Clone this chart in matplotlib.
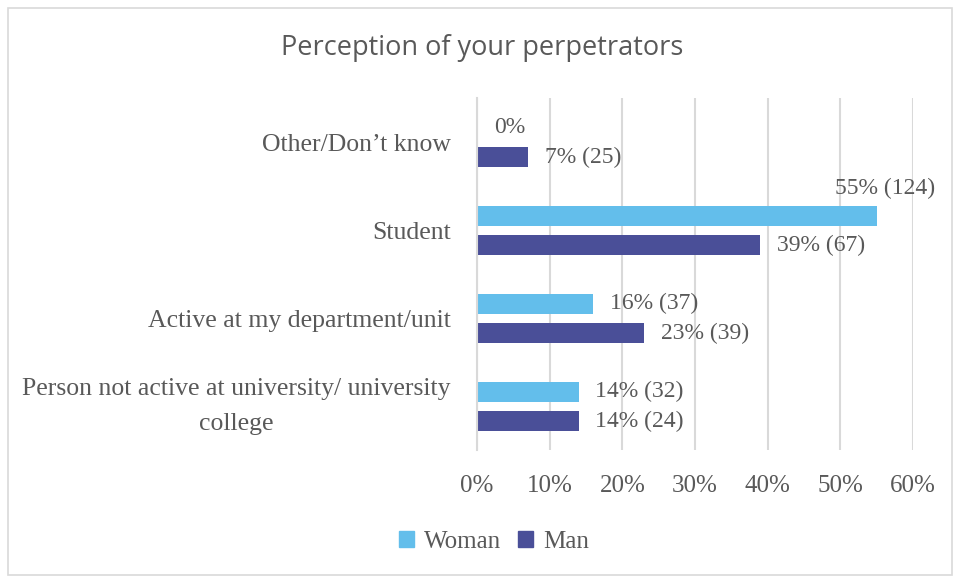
#!/usr/bin/env python3
"""Perception of your perpetrators: grouped horizontal bars, woman vs man."""

import matplotlib.pyplot as plt
from matplotlib.patches import Patch, Rectangle

CATEGORIES = [
    "Other/Don\u2019t know",
    "Student",
    "Active at my department/unit",
    "Person not active at university/ university\ncollege",
]
WOMAN_PCT = [0, 55, 16, 14]
WOMAN_N = [None, 124, 37, 32]
MAN_PCT = [7, 39, 23, 14]
MAN_N = [25, 67, 39, 24]
XTICKS = [0, 10, 20, 30, 40, 50, 60]

WOMAN_COLOR = "#63BEEB"
MAN_COLOR = "#4A4F98"
TEXT_COLOR = "#595959"
GRID_COLOR = "#D9D9D9"
SERIF = ["Liberation Serif", "DejaVu Serif"]


def label(pct, n):
    return f"{pct}%" if n is None else f"{pct}% ({n})"


def main() -> None:
    plt.rcParams["font.family"] = SERIF
    fig = plt.figure(figsize=(9.56, 5.79), dpi=100)
    ax = fig.add_axes([0.499, 0.222, 0.456, 0.608])

    y = list(range(len(CATEGORIES)))
    h = 0.225
    off = 0.165
    yw = [v - off for v in y]
    ym = [v + off for v in y]
    ax.barh(yw, WOMAN_PCT, height=h, color=WOMAN_COLOR, zorder=2)
    ax.barh(ym, MAN_PCT, height=h, color=MAN_COLOR, zorder=2)

    fs = 17
    for yy, p, n in zip(yw, WOMAN_PCT, WOMAN_N):
        if p > 50:
            ax.annotate(label(p, n), (p, yy - h / 2), xytext=(6, 5),
                        textcoords="offset points", ha="center", va="bottom",
                        fontsize=fs, color=TEXT_COLOR)
        else:
            ax.annotate(label(p, n), (p, yy), xytext=(12, 0),
                        textcoords="offset points", ha="left", va="center",
                        fontsize=fs, color=TEXT_COLOR)
    for yy, p, n in zip(ym, MAN_PCT, MAN_N):
        ax.annotate(label(p, n), (p, yy), xytext=(12, 0),
                    textcoords="offset points", ha="left", va="center",
                    fontsize=fs, color=TEXT_COLOR)

    ax.set_xlim(0, 60)
    ax.set_ylim(len(CATEGORIES) - 0.5, -0.5)
    ax.set_xticks(XTICKS)
    ax.set_xticklabels([f"{t}%" for t in XTICKS])
    ax.set_yticks(y)
    ax.set_yticklabels(CATEGORIES, multialignment="center", linespacing=1.75)
    ax.get_yticklabels()[-1].set_va("center")
    ax.tick_params(axis="x", length=0, pad=18, labelsize=18, labelcolor=TEXT_COLOR)
    ax.tick_params(axis="y", length=0, pad=19, labelsize=18.5, labelcolor=TEXT_COLOR)
    ax.grid(axis="x", color=GRID_COLOR, linewidth=1.5, zorder=0)
    ax.set_axisbelow(True)
    for side in ("top", "right", "bottom"):
        ax.spines[side].set_visible(False)
    ax.spines["left"].set_color(GRID_COLOR)
    ax.spines["left"].set_linewidth(1.5)

    fig.text(482 / 956, 1 - 48 / 579, "Perception of your perpetrators",
             family=["Open Sans", "DejaVu Sans"], fontsize=19.5,
             color=TEXT_COLOR, ha="center", va="center")

    handles = [Patch(color=WOMAN_COLOR, label="Woman"),
               Patch(color=MAN_COLOR, label="Man")]
    fig.legend(handles=handles, loc="center", ncol=2,
               bbox_to_anchor=(494 / 956, 1 - 542 / 579), frameon=False,
               fontsize=18, labelcolor=TEXT_COLOR, handlelength=0.6,
               handleheight=0.6, handletextpad=0.4, columnspacing=0.7)

    fig.patches.append(Rectangle((8 / 956, 4 / 579), 944 / 956, 567 / 579,
                                 transform=fig.transFigure, fill=False,
                                 edgecolor=GRID_COLOR, linewidth=1.2))

    fig.savefig("out.png", dpi=100)
    plt.close(fig)


if __name__ == "__main__":
    main()
